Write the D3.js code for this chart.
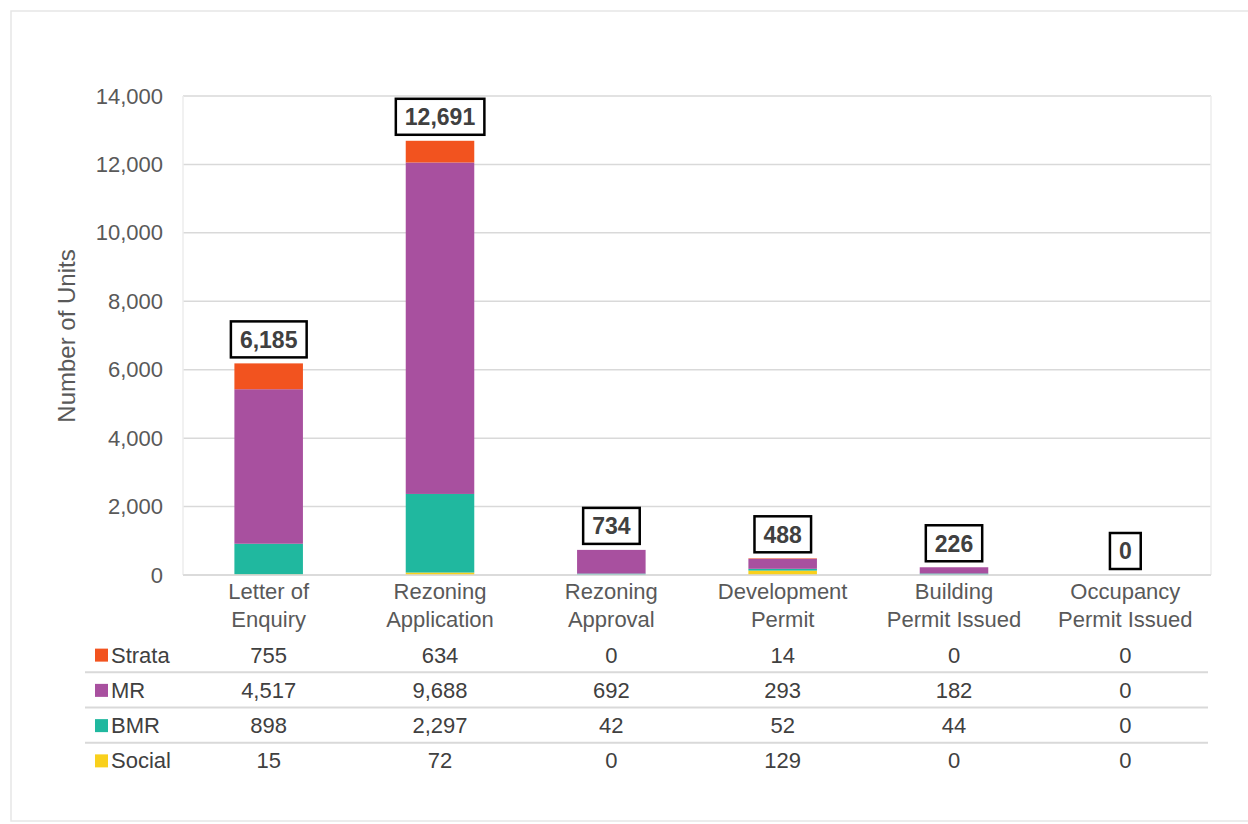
<!DOCTYPE html>
<html>
<head>
<meta charset="utf-8">
<script src="https://cdn.jsdelivr.net/npm/d3@7"></script>
<style>
  body { margin: 0; background: #fff; }
  svg { font-family: "Liberation Sans", Arial, sans-serif; }
</style>
</head>
<body>
<svg width="1248" height="824"></svg>
<script>
var categories = [["Letter of", "Enquiry"], ["Rezoning", "Application"], ["Rezoning", "Approval"],
                  ["Development", "Permit"], ["Building", "Permit Issued"], ["Occupancy", "Permit Issued"]];
var seriesNames = ["Strata", "MR", "BMR", "Social"];
var strata = [755, 634, 0, 14, 0, 0];
var mr = [4517, 9688, 692, 293, 182, 0];
var bmr = [898, 2297, 42, 52, 44, 0];
var social = [15, 72, 0, 129, 0, 0];
var totals = [6185, 12691, 734, 488, 226, 0];
var yTicks = [0, 2000, 4000, 6000, 8000, 10000, 12000, 14000];

var colors = {Strata: "#f2531f", MR: "#a8509f", BMR: "#20b89f", Social: "#f9d01c"};

var svg = d3.select("svg");

var margins = {left: 183, right: 37, top: 96, bottom: 249}; //plot area edges
var width = 1248 - margins.left - margins.right;
var height = 824 - margins.top - margins.bottom;

//outer frame
svg.append("rect")
   .attr("x", 11).attr("y", 11)
   .attr("width", 1250).attr("height", 810)
   .attr("fill", "none")
   .attr("stroke", "#e6e6e6")
   .attr("stroke-width", 1.5);

var idx = d3.range(categories.length);

var xScale = d3.scaleBand()
               .domain(idx)
               .range([margins.left, margins.left + width])
               .paddingInner(0.6)
               .paddingOuter(0.3);

var yScale = d3.scaleLinear()
               .domain([0, 14000])
               .range([margins.top + height, margins.top]);

//gridlines
svg.append("g")
   .selectAll("line")
   .data(yTicks)
   .enter()
   .append("line")
   .attr("x1", margins.left)
   .attr("x2", margins.left + width)
   .attr("y1", function(d) {return yScale(d);})
   .attr("y2", function(d) {return yScale(d);})
   .attr("stroke", "#d9d9d9")
   .attr("stroke-width", 1.5);

//plot side borders
[margins.left, margins.left + width].forEach(function(x) {
  svg.append("line")
     .attr("x1", x).attr("x2", x)
     .attr("y1", margins.top).attr("y2", margins.top + height)
     .attr("stroke", "#ececec")
     .attr("stroke-width", 1.5);
});

//y-axis
var yAxis = d3.axisLeft(yScale)
              .tickValues(yTicks)
              .tickSize(0)
              .tickPadding(20)
              .tickFormat(d3.format(","));

svg.append("g")
   .attr("transform", "translate(" + margins.left + ",0)")
   .call(yAxis)
   .call(function(g) {g.select(".domain").remove();})
   .selectAll("text")
   .attr("fill", "#595959")
   .style("font-size", "22px")
   .style("font-family", "Liberation Sans, Arial, sans-serif");

svg.append("text")
   .attr("transform", "translate(75," + 336 + ") rotate(-90)")
   .attr("text-anchor", "middle")
   .attr("fill", "#595959")
   .style("font-size", "24px")
   .text("Number of Units");

//stacked bars
var rows = idx.map(function(i) {
  return {i: i, Strata: strata[i], MR: mr[i], BMR: bmr[i], Social: social[i]};
});
var stack = d3.stack().keys(["Social", "BMR", "MR", "Strata"]);
var layers = stack(rows);

svg.append("g")
   .selectAll("g")
   .data(layers)
   .enter()
   .append("g")
   .attr("fill", function(d) {return colors[d.key];})
   .selectAll("rect")
   .data(function(d) {return d;})
   .enter()
   .append("rect")
   .attr("x", function(d) {return xScale(d.data.i);})
   .attr("y", function(d) {return yScale(d[1]);})
   .attr("width", xScale.bandwidth())
   .attr("height", function(d) {return yScale(d[0]) - yScale(d[1]);});

//x-axis line
svg.append("line")
   .attr("x1", margins.left).attr("x2", margins.left + width)
   .attr("y1", yScale(0)).attr("y2", yScale(0))
   .attr("stroke", "#d9d9d9")
   .attr("stroke-width", 1.5);

//total labels in boxes
var labels = svg.append("g")
                .selectAll("g")
                .data(idx)
                .enter()
                .append("g")
                .attr("transform", function(i) {
                  return "translate(" + (xScale(i) + xScale.bandwidth() / 2) + "," + (yScale(totals[i]) - 24) + ")";
                });

labels.append("text")
      .attr("text-anchor", "middle")
      .attr("dy", "0.36em")
      .attr("fill", "#404040")
      .style("font-size", "23px")
      .style("font-weight", "bold")
      .text(function(i) {return d3.format(",")(totals[i]);});

labels.each(function() {
  var g = d3.select(this);
  var bb = g.select("text").node().getBBox();
  g.insert("rect", "text")
   .attr("x", bb.x - 9)
   .attr("y", -18)
   .attr("width", bb.width + 18)
   .attr("height", 36)
   .attr("fill", "#fff")
   .attr("stroke", "#000")
   .attr("stroke-width", 2.5);
});

//category labels
var catText = svg.append("g")
                 .selectAll("text")
                 .data(idx)
                 .enter()
                 .append("text")
                 .attr("text-anchor", "middle")
                 .attr("fill", "#595959")
                 .style("font-size", "22px");

catText.selectAll("tspan")
       .data(function(i) {return categories[i];})
       .enter()
       .append("tspan")
       .attr("x", function() {var i = d3.select(this.parentNode).datum(); return xScale(i) + xScale.bandwidth() / 2;})
       .attr("y", function(d, j) {return 599 + j * 28;})
       .text(function(d) {return d;});

//data table
var tableSeries = [strata, mr, bmr, social];
var rowY = d3.scaleBand()
             .domain(seriesNames)
             .range([637, 778]);

var tableRows = svg.append("g")
                   .selectAll("g")
                   .data(seriesNames)
                   .enter()
                   .append("g")
                   .attr("transform", function(d) {return "translate(0," + rowY(d) + ")";});

tableRows.filter(function(d, j) {return j > 0;})
         .append("line")
         .attr("x1", 85).attr("x2", margins.left + width - 3)
         .attr("y1", 0).attr("y2", 0)
         .attr("stroke", "#d9d9d9")
         .attr("stroke-width", 2);

tableRows.append("rect")
         .attr("x", 95)
         .attr("y", rowY.bandwidth() / 2 - 6)
         .attr("width", 13)
         .attr("height", 13)
         .attr("fill", function(d) {return colors[d];});

tableRows.append("text")
         .attr("x", 111)
         .attr("y", rowY.bandwidth() / 2)
         .attr("dy", "0.36em")
         .attr("fill", "#404040")
         .style("font-size", "22px")
         .text(function(d) {return d;});

tableRows.each(function(name, j) {
  d3.select(this)
    .selectAll("text.val")
    .data(tableSeries[j])
    .enter()
    .append("text")
    .classed("val", true)
    .attr("x", function(v, i) {return xScale(i) + xScale.bandwidth() / 2;})
    .attr("y", rowY.bandwidth() / 2)
    .attr("dy", "0.36em")
    .attr("text-anchor", "middle")
    .attr("fill", "#404040")
    .style("font-size", "22px")
    .text(function(v) {return d3.format(",")(v);});
});
</script>
</body>
</html>
